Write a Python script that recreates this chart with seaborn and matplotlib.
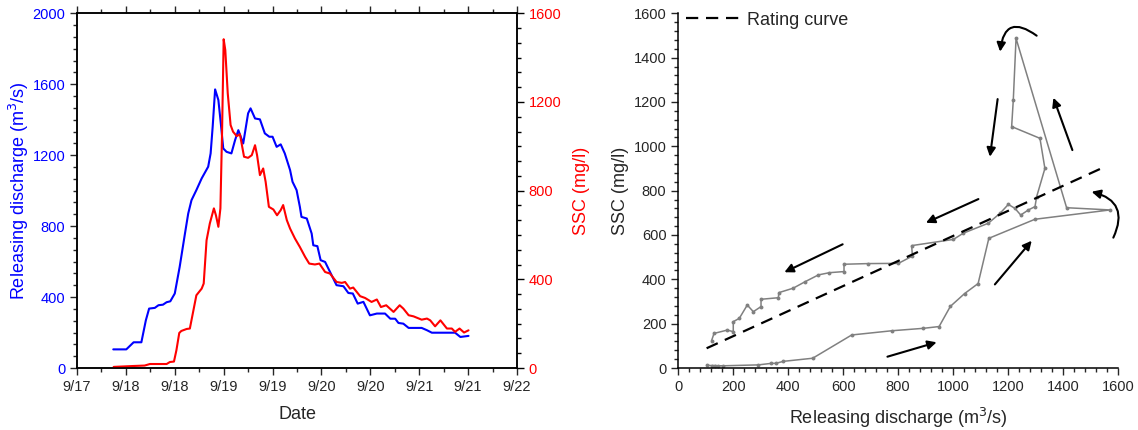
import numpy as np
import pandas as pd
import matplotlib
matplotlib.use("Agg")
import matplotlib.pyplot as plt
from matplotlib.ticker import MultipleLocator, FixedLocator
import seaborn as sns

sns.set_style("ticks")
plt.rcParams['font.family'] = ['Liberation Sans', 'DejaVu Sans']

# ---------------- data ----------------
# left panel: time in hours since 9/17 00:00
t_q = [20.9, 24.1, 25.9, 27.8, 28.9, 29.7, 31.1, 32.0, 33.1, 34.0,
       34.9, 36.0, 37.2, 38.5, 39.3, 40.1, 41.3, 42.6, 44.2, 44.8,
       45.3, 45.9, 46.7, 47.3, 47.9, 48.7, 49.9, 50.8, 51.6, 52.8,
       54.0, 54.6, 55.7, 56.9, 58.1, 59.2, 60.0, 61.0, 62.0, 63.0,
       64.3, 64.9, 65.9, 66.7, 67.1, 68.4, 69.6, 70.0, 71.0, 71.8,
       72.9, 74.1, 75.7, 77.4, 78.6, 79.7, 80.9, 82.3, 83.9, 85.6,
       87.6, 88.9, 90.1, 90.9, 92.1, 93.4, 96.6, 97.9, 99.1, 104.8,
       106.1, 108.1]
discharge = [105, 105, 145, 145, 269, 335, 339, 354, 357, 371,
             376, 420, 570, 758, 871, 946, 1003, 1069, 1135, 1210,
             1360, 1571, 1511, 1379, 1238, 1219, 1210, 1285, 1341, 1266,
             1436, 1464, 1407, 1402, 1323, 1304, 1304, 1247, 1261, 1210,
             1116, 1050, 1003, 909, 852, 843, 758, 692, 687, 608,
             598, 542, 467, 461, 423, 420, 363, 373, 297, 307,
             307, 278, 278, 254, 250, 226, 226, 213, 199, 199,
             175, 181]

t_s = [21.0, 25.8, 28.6, 29.9, 34.0, 34.8, 35.8, 36.4, 37.1, 37.6,
       38.9, 39.7, 40.5, 41.3, 42.6, 43.1, 43.8, 44.6, 45.6, 46.1,
       46.7, 47.2, 47.6, 48.0, 48.4, 49.0, 49.7, 50.3, 51.2, 52.0,
       53.0, 54.0, 54.9, 55.7, 56.2, 56.9, 57.7, 58.3, 59.1, 60.2,
       61.1, 62.0, 62.6, 63.5, 64.3, 65.5, 66.7, 68.0, 69.0, 70.4,
       71.5, 72.9, 74.1, 75.7, 77.0, 77.8, 79.0, 79.8, 81.5, 82.7,
       84.3, 85.6, 86.6, 87.9, 89.7, 91.2, 92.1, 93.4, 94.6, 96.6,
       97.9, 98.7, 99.9, 101.2, 102.8, 104.0, 104.8, 105.9, 107.0, 108.1]
ssc = [5, 9, 11, 18, 18, 27, 29, 80, 158, 167,
       176, 178, 253, 328, 358, 381, 576, 652, 720, 689,
       637, 720, 1058, 1483, 1434, 1239, 1096, 1066, 1046, 1054,
       953, 948, 960, 1005, 960, 870, 900, 840, 727, 715,
       689, 712, 735, 667, 629, 584, 546, 501, 471, 467,
       471, 433, 426, 388, 384, 388, 358, 363, 324, 316,
       298, 309, 275, 283, 253, 283, 268, 238, 233, 218,
       223, 215, 188, 215, 178, 178, 163, 178, 160, 170]

date_ticks = [12, 24, 36, 48, 60, 72, 84, 96, 108, 120]
date_labels = ["9/17", "9/18", "9/18", "9/19", "9/19", "9/20", "9/20", "9/21", "9/21", "9/22"]

# right panel: hysteresis loop (in time order)
loop_q = [103, 121, 133, 145, 164, 291, 339, 355, 382, 489,
          631, 777, 892, 949, 990, 1042, 1091, 1130, 1298, 1571,
          1413, 1229, 1219, 1213, 1316, 1334, 1304, 1298, 1274, 1246,
          1225, 1201, 1171, 1128, 1037, 1001, 849, 852, 801, 691,
          603, 603, 550, 510, 461, 418, 366, 364, 301, 301,
          273, 251, 222, 200, 200, 178, 130, 121]
loop_s = [12, 11, 11, 10, 10, 14, 21, 21, 30, 44,
          149, 168, 179, 187, 278, 336, 381, 585, 671, 713,
          723, 1487, 1209, 1089, 1036, 900, 773, 728, 713, 690,
          720, 738, 698, 653, 608, 580, 552, 505, 472, 471,
          468, 435, 430, 420, 389, 360, 340, 317, 310, 277,
          254, 284, 224, 209, 164, 171, 156, 123]

rating_q = [103, 1558]
rating_s = [89, 911]

# arrows: tail / head positions and curvature
arrow_tail_q = [761, 1152, 1434, 1162, 1092, 598, 1304, 1583]
arrow_tail_s = [51, 377, 983, 1213, 762, 558, 1499, 588]
arrow_head_q = [940, 1286, 1365, 1134, 901, 386, 1171, 1504]
arrow_head_s = [116, 574, 1219, 953, 655, 432, 1427, 795]
arrow_rad = [0, 0, 0, 0, 0, 0, 0.85, 0.6]

# ---------------- figure ----------------
fig = plt.figure(figsize=(11.38, 4.30), dpi=100)
W, H = 1138, 430
ax = fig.add_axes([77 / W, 62 / H, 440 / W, 354.7 / H])
axr = fig.add_axes([678.3 / W, 62 / H, 439.7 / W, 354.7 / H])

BLUE = "#0000ff"
RED = "#ff0000"
TICK_FS = 10.5
LABEL_FS = 13

df_q = pd.DataFrame({"t": t_q, "q": discharge})
df_s = pd.DataFrame({"t": t_s, "s": ssc})

sns.lineplot(data=df_q, x="t", y="q", ax=ax, color=BLUE, lw=1.5,
             sort=False, estimator=None)
ax.set_xlim(12, 120)
ax.set_ylim(0, 2000)
ax.xaxis.set_major_locator(FixedLocator(date_ticks))
ax.set_xticklabels(date_labels)
ax.xaxis.set_minor_locator(MultipleLocator(6))
ax.yaxis.set_major_locator(MultipleLocator(400))
ax.yaxis.set_minor_locator(MultipleLocator(400 / 6))
ax.tick_params(axis="both", which="major", length=5, width=1, direction="out", labelsize=TICK_FS)
ax.tick_params(axis="both", which="minor", length=3, width=1, direction="out")
ax.tick_params(axis="x", which="both", top=True)
ax.tick_params(axis="y", labelcolor=BLUE)
ax.set_xlabel("Date", fontsize=LABEL_FS, labelpad=9)
ax.set_ylabel("Releasing discharge (m$^3$/s)", fontsize=LABEL_FS, color=BLUE, labelpad=1)

ax2 = ax.twinx()
sns.lineplot(data=df_s, x="t", y="s", ax=ax2, color=RED, lw=1.5,
             sort=False, estimator=None)
ax2.set_ylim(0, 1600)
ax2.yaxis.set_major_locator(MultipleLocator(400))
ax2.yaxis.set_minor_locator(MultipleLocator(400 / 6))
ax2.tick_params(axis="y", which="major", length=5, width=1, direction="out", labelsize=TICK_FS,
                labelcolor=RED, color="black")
ax2.tick_params(axis="y", which="minor", length=3, width=1, direction="out", color="black")
ax2.set_ylabel("SSC (mg/l)", fontsize=LABEL_FS, color=RED, labelpad=8)
for a in (ax, ax2):
    for sp in a.spines.values():
        sp.set_linewidth(1.1)
        sp.set_color("black")

# ---------------- right panel ----------------
df_loop = pd.DataFrame({"q": loop_q, "s": loop_s})
sns.lineplot(data=df_loop, x="q", y="s", ax=axr, color="#808080", lw=1.1,
             sort=False, estimator=None, marker="o", markersize=2.8,
             markeredgewidth=0)
df_rc = pd.DataFrame({"q": rating_q, "s": rating_s})
sns.lineplot(data=df_rc, x="q", y="s", ax=axr, color="black", lw=1.6,
             linestyle=(0, (5.5, 3.5)), sort=False, estimator=None,
             label="Rating curve")
axr.set_xlim(0, 1600)
axr.set_ylim(0, 1600)
axr.xaxis.set_major_locator(MultipleLocator(200))
axr.xaxis.set_minor_locator(MultipleLocator(40))
axr.yaxis.set_major_locator(MultipleLocator(200))
axr.yaxis.set_minor_locator(MultipleLocator(40))
axr.tick_params(axis="both", which="major", length=5, width=1, direction="out", labelsize=TICK_FS)
axr.tick_params(axis="both", which="minor", length=3, width=1, direction="out")
axr.spines["top"].set_visible(False)
axr.spines["right"].set_visible(False)
for sp in ("left", "bottom"):
    axr.spines[sp].set_linewidth(1.1)
    axr.spines[sp].set_color("black")
axr.set_xlabel("Releasing discharge (m$^3$/s)", fontsize=LABEL_FS, labelpad=9)
axr.set_ylabel("SSC (mg/l)", fontsize=LABEL_FS, labelpad=3)
leg = axr.legend(loc="upper left", frameon=False, fontsize=LABEL_FS,
                 handlelength=3.0, handletextpad=0.4,
                 borderaxespad=0.0, bbox_to_anchor=(0.0, 1.025))

for tq, ts, hq, hs, rad in zip(arrow_tail_q, arrow_tail_s, arrow_head_q, arrow_head_s, arrow_rad):
    axr.annotate("", xy=(hq, hs), xytext=(tq, ts), xycoords="data", textcoords="data",
                 annotation_clip=False,
                 arrowprops=dict(arrowstyle="-|>", color="black", lw=1.5,
                                 mutation_scale=13, shrinkA=0, shrinkB=0,
                                 connectionstyle=f"arc3,rad={rad}"))

fig.savefig("out.png", dpi=100)
